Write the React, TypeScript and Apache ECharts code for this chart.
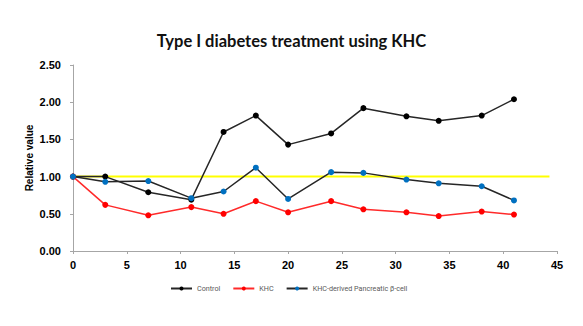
import React, { useEffect, useRef } from "react";
import * as echarts from "echarts";

const days = [0, 3, 7, 11, 14, 17, 20, 24, 27, 31, 34, 38, 41];
const control = [1.0, 1.0, 0.79, 0.69, 1.6, 1.82, 1.43, 1.58, 1.92, 1.81, 1.75, 1.82, 2.04];
const khc = [1.0, 0.62, 0.48, 0.59, 0.5, 0.67, 0.52, 0.67, 0.56, 0.52, 0.47, 0.53, 0.49];
const derived = [1.0, 0.93, 0.94, 0.71, 0.8, 1.12, 0.7, 1.06, 1.05, 0.96, 0.91, 0.87, 0.68];
const baselineX = [0, 44.3];
const baselineY = [1.0, 1.0];
const seriesNames = ["Control", "KHC", "KHC-derived Pancreatic β-cell"];

const pair = (ys: number[], xs: number[]) => xs.map((x, i) => [x, ys[i]]);

export default function App() {
  const ref = useRef<HTMLDivElement>(null);
  useEffect(() => {
    if (!ref.current) return;
    const chart = echarts.init(ref.current, undefined, { renderer: "svg" });
    const font = "'Liberation Sans', Arial, sans-serif";
    chart.setOption({
      animation: false,
      backgroundColor: "#ffffff",
      title: {
        text: "Type I diabetes treatment using KHC",
        left: "center",
        top: 27,
        textStyle: { fontFamily: "Lato, 'Open Sans', sans-serif", fontWeight: "bold", fontSize: 16.5, color: "#111" },
      },
      legend: {
        data: seriesNames,
        top: 285,
        left: 170,
        padding: 0,
        itemWidth: 21,
        itemHeight: 5,
        itemGap: 12,
        textStyle: { fontFamily: "Roboto, 'Liberation Sans', sans-serif", fontSize: 7.2, color: "#595959" },
      },
      grid: { left: 73, right: 26, top: 65, bottom: 75, containLabel: false },
      xAxis: {
        type: "value",
        min: 0,
        max: 45,
        interval: 5,
        splitLine: { show: false },
        axisLine: { lineStyle: { color: "#a6a6a6", width: 1 } },
        axisTick: { show: true, length: 3, lineStyle: { color: "#a6a6a6" } },
        axisLabel: { color: "#000", fontWeight: "bold", fontSize: 11, fontFamily: font, margin: 8 },
      },
      yAxis: {
        type: "value",
        min: 0,
        max: 2.5,
        interval: 0.5,
        name: "Relative value",
        nameLocation: "middle",
        nameGap: 39,
        nameMoveOverlap: false,
        nameTextStyle: { color: "#000", fontWeight: "bold", fontSize: 10, fontFamily: font },
        splitLine: { show: false },
        axisLine: { show: true, lineStyle: { color: "#a6a6a6", width: 1 } },
        axisTick: { show: true, length: 3, lineStyle: { color: "#a6a6a6" } },
        axisLabel: {
          color: "#000",
          fontWeight: "bold",
          fontSize: 11,
          fontFamily: font,
          margin: 12,
          formatter: (v: number) => v.toFixed(2),
        },
      },
      series: [
        {
          name: "baseline",
          type: "line",
          data: pair(baselineY, baselineX),
          showSymbol: false,
          symbol: "none",
          lineStyle: { color: "#ffff00", width: 2 },
          silent: true,
          z: 1,
        },
        {
          name: seriesNames[0],
          type: "line",
          data: pair(control, days),
          symbol: "circle",
          symbolSize: 6,
          itemStyle: { color: "#000000" },
          lineStyle: { color: "#262626", width: 1.5 },
          z: 3,
        },
        {
          name: seriesNames[1],
          type: "line",
          data: pair(khc, days),
          symbol: "circle",
          symbolSize: 6,
          itemStyle: { color: "#ff0000" },
          lineStyle: { color: "#ff2a2a", width: 1.5 },
          z: 3,
        },
        {
          name: seriesNames[2],
          type: "line",
          data: pair(derived, days),
          symbol: "circle",
          symbolSize: 6,
          itemStyle: { color: "#0070c0" },
          lineStyle: { color: "#262626", width: 1.5 },
          z: 4,
        },
      ],
    });
    return () => chart.dispose();
  }, []);
  return <div ref={ref} style={{ width: 583, height: 326, position: "absolute", left: 0, top: 0 }} />;
}
